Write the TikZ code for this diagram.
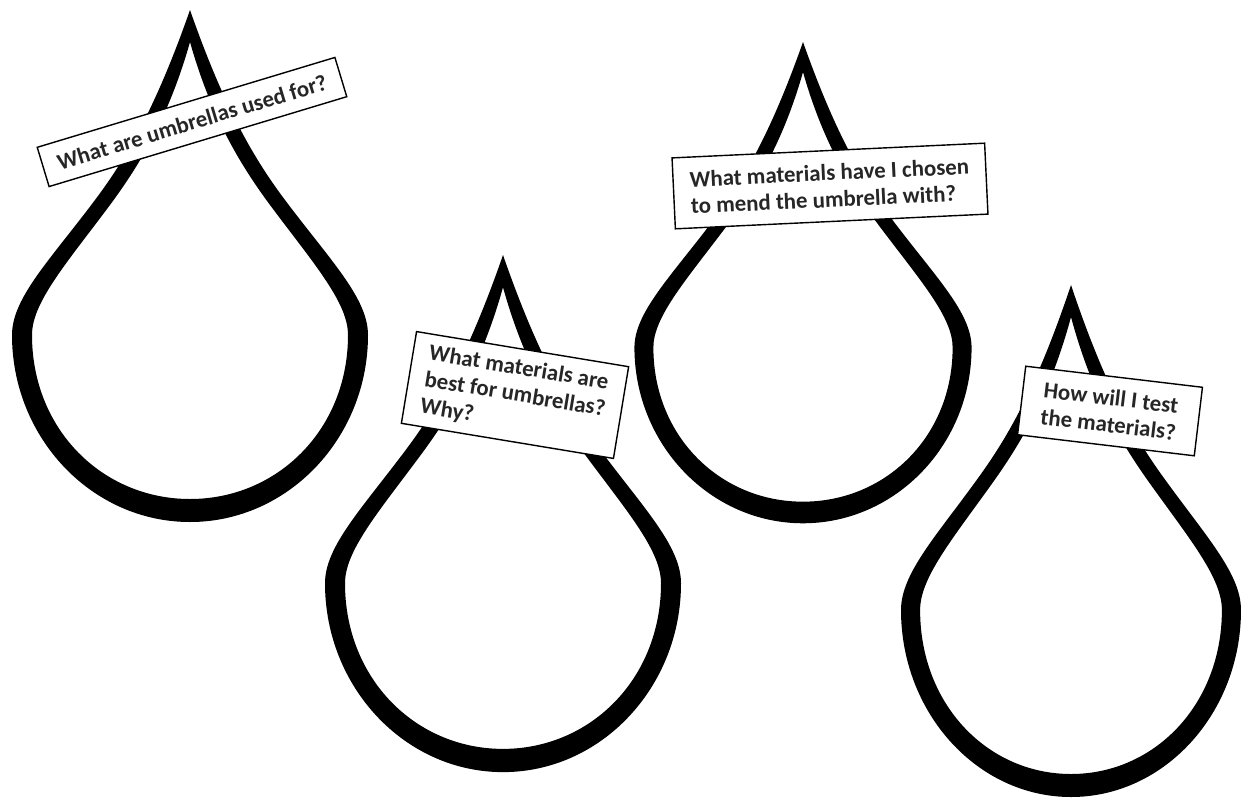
\documentclass[tikz,border=0pt]{standalone}
\usepackage{fontspec}
\setmainfont{Carlito}
\usepackage{tikz}
\usetikzlibrary{calc,positioning}
\tikzset{
  q/.style={draw=black,line width=0.8pt,fill=white,align=left,inner sep=0pt,
    font=\fontsize{13}{15.3}\selectfont\bfseries,text=black!85},
  % a raindrop outline, tip at the origin, drawn as a filled ring
  drop/.pic={
    \fill[black,even odd rule]
      (0,0) .. controls (-35,100) and (-65,150) .. (-95,190)
      .. controls (-140,250) and (-178,288) .. (-178,325)
      .. controls (-178,428) and (-98,512) .. (0,512)
      .. controls (98,512) and (178,428) .. (178,325)
      .. controls (178,288) and (140,250) .. (95,190)
      .. controls (65,150) and (35,100) .. (0,0) -- cycle
      (0,32) .. controls (-22,110) and (-53,159) .. (-83,199)
      .. controls (-125,255) and (-158,293) .. (-158,325)
      .. controls (-158,420) and (-87,489) .. (0,489)
      .. controls (87,489) and (158,420) .. (158,325)
      .. controls (158,293) and (125,255) .. (83,199)
      .. controls (53,159) and (22,110) .. (0,32) -- cycle;
  },
}
\begin{document}
\begin{tikzpicture}[x=0.02cm,y=-0.02cm]
  \fill[white] (0,0) rectangle (1241,798);
  \useasboundingbox (0,0) rectangle (1241,798);
  % ---- the four drops ----
  \pic (d1) at (190,10) {drop};
  \pic[yscale=1.01] (d2) at (503,255) {drop};
  \pic[xscale=0.947,yscale=0.94] (d3) at (803,42) {drop};
  \pic[xscale=0.955] (d4) at (1071,285) {drop};
  % ---- the questions, one label pinned on each drop ----
  \node[q,rotate=16.8,minimum width=6.22cm,minimum height=0.82cm] (q1) at (192,122)
    {What are umbrellas used for?};
  \node[q,rotate=-9.4,minimum width=4.30cm,minimum height=1.86cm] (q2) at (515,395)
    {What materials are\\best for umbrellas?\\Why?};
  \node[q,rotate=2.7,minimum width=6.26cm,minimum height=1.42cm] (q3) at (830,186)
    {What materials have I chosen\\to mend the umbrella with?};
  \node[q,rotate=-6.8,minimum width=3.56cm,minimum height=1.38cm] (q4) at (1110,411)
    {How will I test\\the materials?};
\end{tikzpicture}
\end{document}
